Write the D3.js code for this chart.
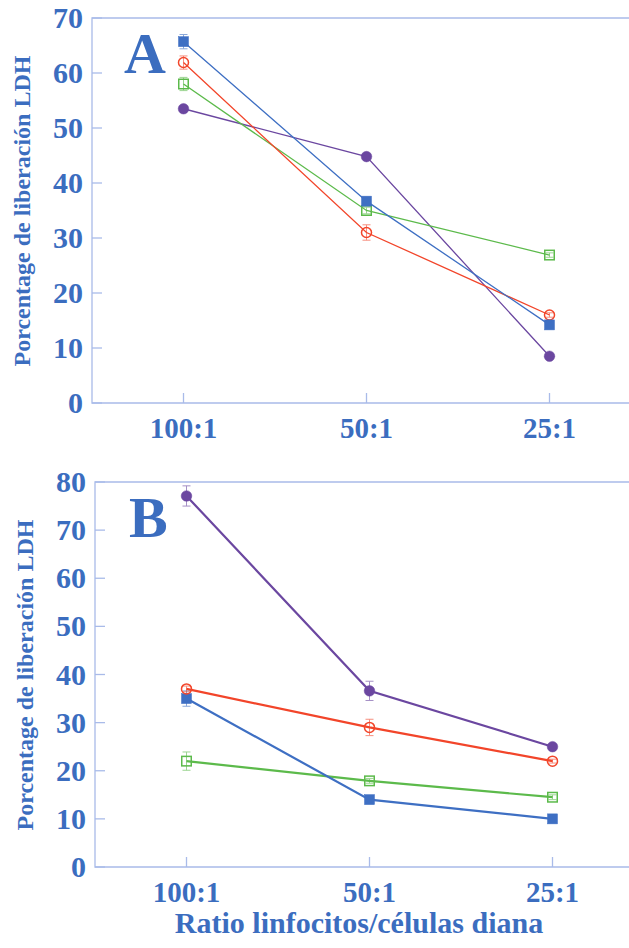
<!DOCTYPE html>
<html>
<head>
<meta charset="utf-8">
<script src="https://cdn.jsdelivr.net/npm/d3@7/dist/d3.min.js"></script>
<style>
  html, body { margin: 0; padding: 0; background: #fff; }
  svg { display: block; }
  text { font-family: "Liberation Serif", "Times New Roman", serif; font-weight: bold; fill: #3b6dbf; }
</style>
</head>
<body>
<svg id="chart" width="629" height="948"></svg>
<script>
// Ratio of lymphocytes to target cells (x categories)
const ratios = ["100:1", "50:1", "25:1"];
const ticksA = [0, 10, 20, 30, 40, 50, 60, 70];
const ticksB = [0, 10, 20, 30, 40, 50, 60, 70, 80];

// Panel A: % LDH release, with error (±)
const aAzul = [65.7, 36.7, 14.2];
const aAzulErr = [1.3, 0.6, 0.5];
const aRojo = [61.9, 31.0, 16.0];
const aRojoErr = [1.2, 1.4, 0.4];
const aVerde = [58.0, 35.0, 26.9];
const aVerdeErr = [1.2, 0.6, 0.4];
const aMorado = [53.5, 44.8, 8.5];
const aMoradoErr = [0.4, 0.4, 0.4];

// Panel B: % LDH release, with error (±)
const bAzul = [35.0, 14.0, 10.0];
const bAzulErr = [1.6, 0.4, 0.4];
const bRojo = [37.0, 29.0, 22.0];
const bRojoErr = [0.6, 1.7, 0.4];
const bVerde = [22.0, 17.9, 14.5];
const bVerdeErr = [1.9, 0.5, 0.5];
const bMorado = [77.1, 36.6, 25.0];
const bMoradoErr = [2.1, 2.0, 0.4];

const colors = { azul: "#3e6fc3", rojo: "#f2452a", verde: "#5cba4b", morado: "#6b47a0" };
const axisColor = "#a9bbe9";

const svg = d3.select("#chart");

function panel(cfg) {
  const g = svg.append("g");
  const x = d3.scalePoint().domain(ratios).range([cfg.left, cfg.left + cfg.width]).padding(0.5);
  const y = d3.scaleLinear().domain([0, cfg.max]).range([cfg.bottom, cfg.top]);

  // frame: top, left, bottom lines
  g.append("path")
    .attr("d", `M629,${cfg.top}H${cfg.left}V${cfg.bottom}H629`)
    .attr("fill", "none").attr("stroke", axisColor).attr("stroke-width", 1.3);

  // y ticks (inward) and labels
  g.selectAll(".yt").data(cfg.ticks).join("line")
    .attr("x1", cfg.left).attr("x2", cfg.left + 10)
    .attr("y1", d => y(d)).attr("y2", d => y(d))
    .attr("stroke", axisColor).attr("stroke-width", 1.3);
  g.selectAll(".yl").data(cfg.ticks).join("text")
    .attr("x", cfg.left - 9).attr("y", d => y(d) + 10)
    .attr("text-anchor", "end").attr("font-size", 30)
    .text(d => d);

  // x ticks (inward) and labels
  g.selectAll(".xt").data(ratios).join("line")
    .attr("x1", d => x(d)).attr("x2", d => x(d))
    .attr("y1", cfg.bottom).attr("y2", cfg.bottom - 10)
    .attr("stroke", axisColor).attr("stroke-width", 1.3);
  g.selectAll(".xl").data(ratios).join("text")
    .attr("x", d => x(d)).attr("y", cfg.bottom + 35)
    .attr("text-anchor", "middle").attr("font-size", 29)
    .text(d => d);

  // y axis title
  g.append("text")
    .attr("transform", `translate(${cfg.titleX},${cfg.titleY}) rotate(-90)`)
    .attr("text-anchor", "middle").attr("font-size", 24)
    .text("Porcentage de liberación LDH");

  // panel letter
  g.append("text")
    .attr("x", cfg.letterX).attr("y", cfg.letterY)
    .attr("font-size", 58)
    .text(cfg.letter);

  const line = d3.line().x((d, i) => x(ratios[i])).y(d => y(d));

  cfg.series.forEach(s => {
    const col = colors[s.color];
    const pts = s.values.map((v, i) => ({ cat: ratios[i], v, e: s.err[i] }));

    // error bars
    const eb = g.append("g").attr("stroke", col).attr("stroke-width", 1).attr("opacity", 0.6);
    pts.forEach(p => {
      const cx = x(p.cat);
      eb.append("line").attr("x1", cx).attr("x2", cx).attr("y1", y(p.v - p.e)).attr("y2", y(p.v + p.e));
      eb.append("line").attr("x1", cx - 4).attr("x2", cx + 4).attr("y1", y(p.v - p.e)).attr("y2", y(p.v - p.e));
      eb.append("line").attr("x1", cx - 4).attr("x2", cx + 4).attr("y1", y(p.v + p.e)).attr("y2", y(p.v + p.e));
    });

    g.append("path").datum(s.values)
      .attr("d", line)
      .attr("fill", "none").attr("stroke", col).attr("stroke-width", cfg.lineWidth);

    const m = g.append("g");
    pts.forEach(p => {
      const cx = x(p.cat), cy = y(p.v);
      if (s.shape === "square") {
        const sz = s.filled ? 10 : 9.5;
        m.append("rect")
          .attr("x", cx - sz / 2).attr("y", cy - sz / 2).attr("width", sz).attr("height", sz)
          .attr("fill", s.filled ? col : "none").attr("stroke", col).attr("stroke-width", s.filled ? 0.5 : 1.5);
      } else {
        m.append("circle")
          .attr("cx", cx).attr("cy", cy).attr("r", s.filled ? 5.3 : 5)
          .attr("fill", s.filled ? col : "none").attr("stroke", col).attr("stroke-width", s.filled ? 0.5 : 1.5);
      }
    });
  });
}

panel({
  left: 92, width: 549, top: 18, bottom: 403, max: 70, ticks: ticksA,
  titleX: 30, titleY: 211, letter: "A", letterX: 124, letterY: 73, lineWidth: 1.3,
  series: [
    { values: aMorado, err: aMoradoErr, color: "morado", shape: "circle", filled: true },
    { values: aVerde, err: aVerdeErr, color: "verde", shape: "square", filled: false },
    { values: aRojo, err: aRojoErr, color: "rojo", shape: "circle", filled: false },
    { values: aAzul, err: aAzulErr, color: "azul", shape: "square", filled: true }
  ]
});

panel({
  left: 95, width: 549, top: 482, bottom: 867, max: 80, ticks: ticksB,
  titleX: 33, titleY: 675, letter: "B", letterX: 129, letterY: 537, lineWidth: 2.2,
  series: [
    { values: bVerde, err: bVerdeErr, color: "verde", shape: "square", filled: false },
    { values: bAzul, err: bAzulErr, color: "azul", shape: "square", filled: true },
    { values: bRojo, err: bRojoErr, color: "rojo", shape: "circle", filled: false },
    { values: bMorado, err: bMoradoErr, color: "morado", shape: "circle", filled: true }
  ]
});

// shared x axis title
svg.append("text")
  .attr("x", 359).attr("y", 933)
  .attr("text-anchor", "middle").attr("font-size", 30)
  .text("Ratio linfocitos/células diana");
</script>
</body>
</html>
